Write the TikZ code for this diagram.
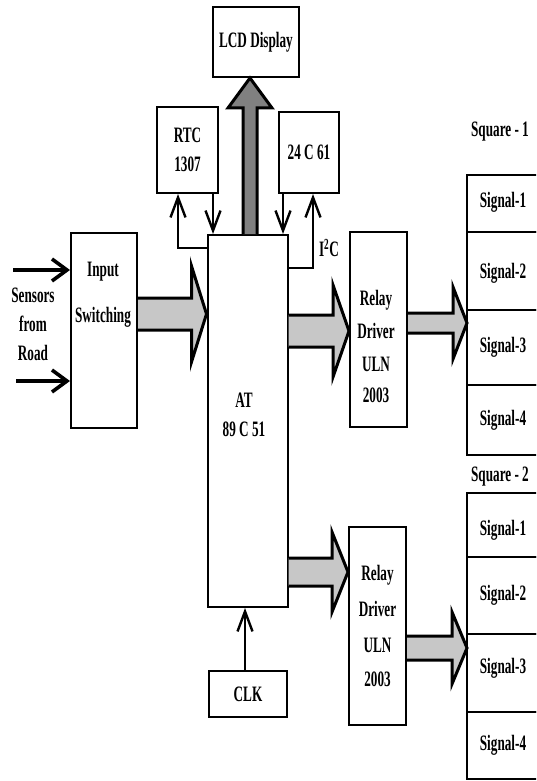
\documentclass[tikz,border=0pt]{standalone}
\usepackage{fontspec}
\setmainfont{Liberation Serif}[FakeStretch=0.6]
\usetikzlibrary{arrows.meta,calc}
\newcommand\lblfont{\bfseries\fontsize{22}{29}\selectfont}
% wide shaded arrow, left to right: start, tip, half shaft, half head, head length
\newcommand\hfat[5]{%
  \fill[fatfill] ($(#1)+(0,#3)$) -- ($(#2)+(-#5,#3)$) -- ($(#2)+(-#5,#4)$) -- (#2) -- ($(#2)+(-#5,-#4)$) -- ($(#2)+(-#5,-#3)$) -- ($(#1)+(0,-#3)$) -- cycle;
  \draw[fatline] ($(#1)+(0,#3)$) -- ($(#2)+(-#5,#3)$) -- ($(#2)+(-#5,#4)$) -- (#2) -- ($(#2)+(-#5,-#4)$) -- ($(#2)+(-#5,-#3)$) -- ($(#1)+(0,-#3)$);}
\tikzset{
  blk/.style={draw,line width=2pt,inner sep=0pt,align=center,font=\lblfont},
  lbl/.style={inner sep=0pt,align=center,font=\lblfont},
  conn/.style={line width=2.4pt,-{Straight Barb[length=20pt,width=15pt]}},
  sens/.style={line width=3.6pt,-{Straight Barb[length=15pt,width=22pt]}},
  fatline/.style={line width=3pt,line join=miter},
  fatfill/.style={fill=black!22},
}
\begin{document}
\begin{tikzpicture}[x=1pt,y=-1pt]
\path[use as bounding box] (0,0) rectangle (536,781);
\clip (0,0) rectangle (536,781);
\fill[white] (0,0) rectangle (536,781);
% blocks
\node[blk,minimum width=86,minimum height=70] (lcd) at (256,42) {LCD Display};
\node[blk,minimum width=61,minimum height=86] (rtc) at (187.5,150) {RTC\\1307};
\node[blk,minimum width=60,minimum height=81] (eep) at (309,152.5) {24 C 61};
\node[blk,minimum width=80,minimum height=372] (mcu) at (247.5,421) {};
\node[lbl] (mcutxt) at (244,415) {AT\\89 C 51};
\node[blk,minimum width=66,minimum height=195] (insw) at (104,330.5) {};
\node[lbl] (inswtxt) at (103,295) {Input\\[17pt]Switching};
\node[blk,minimum width=57,minimum height=195] (rly1) at (378.5,329.5) {};
\node[lbl] (rly1txt) at (376,346) {Relay\\[4pt]Driver\\[4pt]ULN\\[2pt]2003};
\node[blk,minimum width=57,minimum height=198] (rly2) at (377.5,626) {Relay\\[7pt]Driver\\[7pt]ULN\\[5pt]2003};
\node[blk,minimum width=78,minimum height=46] (clk) at (248,694) {CLK};
\node[lbl] (sens) at (33,324) {Sensors\\from\\Road};
\node[lbl] (i2c) at (329,248) {I\textsuperscript{2}C};
% signal columns
\node[lbl] (sq1) at (500,132) {Square - 1};
\node[lbl] (sq2) at (500,477) {Square - 2};
\foreach \t/\b in {175/232,232/310,310/385,385/455,493/557,557/634,634/712,712/779} {\draw[line width=2pt] (467,\t) rectangle (560,\b);}
\foreach \n/\y in {1/202,2/273,3/347,4/420} {\node[lbl] (sa\n) at (503,\y) {Signal-\n};}
\foreach \n/\y in {1/530,2/595,3/668,4/745} {\node[lbl] (sb\n) at (503,\y) {Signal-\n};}
% thin connectors
\coordinate (sin1) at (13,270);
\coordinate (sin2) at (16,381);
\draw[sens] (sin1) -- (insw.west|-sin1);
\draw[sens] (sin2) -- (insw.west|-sin2);
\draw[conn] (rtc.south-|213,0) -- (mcu.north-|213,0);
\draw[conn] (mcu.west|-0,248) -| (rtc.south-|178,0);
\draw[conn] (eep.south-|283,0) -- (mcu.north-|283,0);
\draw[conn] (mcu.east|-0,268) -| (eep.south-|313,0);
\draw[conn] (clk.north-|245,0) -- (mcu.south-|245,0);
% wide arrows
\coordinate (f1s) at (insw.east|-0,314); \coordinate (f1t) at (mcu.west|-0,314);
\coordinate (f2s) at (mcu.east|-0,331); \coordinate (f2t) at (rly1.west|-0,331);
\coordinate (f3s) at (rly1.east|-0,323); \coordinate (f3t) at (467,323);
\coordinate (f4s) at (mcu.east|-0,572); \coordinate (f4t) at (rly2.west|-0,572);
\coordinate (f5s) at (rly2.east|-0,648); \coordinate (f5t) at (467,648);
\hfat{f1s}{f1t}{16}{48}{15}
\hfat{f2s}{f2t}{16}{46}{16}
\hfat{f3s}{f3t}{10}{36}{14}
\hfat{f4s}{f4t}{14}{40}{16}
\hfat{f5s}{f5t}{12}{36}{15}
\coordinate (us) at (mcu.north-|250,0); \coordinate (ut) at (lcd.south-|250,0);
\fill[black!50] ($(us)+(-7,0)$) -- ($(ut)+(-7,30)$) -- ($(ut)+(-22,30)$) -- (ut) -- ($(ut)+(22,30)$) -- ($(ut)+(7,30)$) -- ($(us)+(7,0)$) -- cycle;
\draw[fatline] ($(us)+(-7,0)$) -- ($(ut)+(-7,30)$) -- ($(ut)+(-22,30)$) -- (ut) -- ($(ut)+(22,30)$) -- ($(ut)+(7,30)$) -- ($(us)+(7,0)$);
\end{tikzpicture}
\end{document}
